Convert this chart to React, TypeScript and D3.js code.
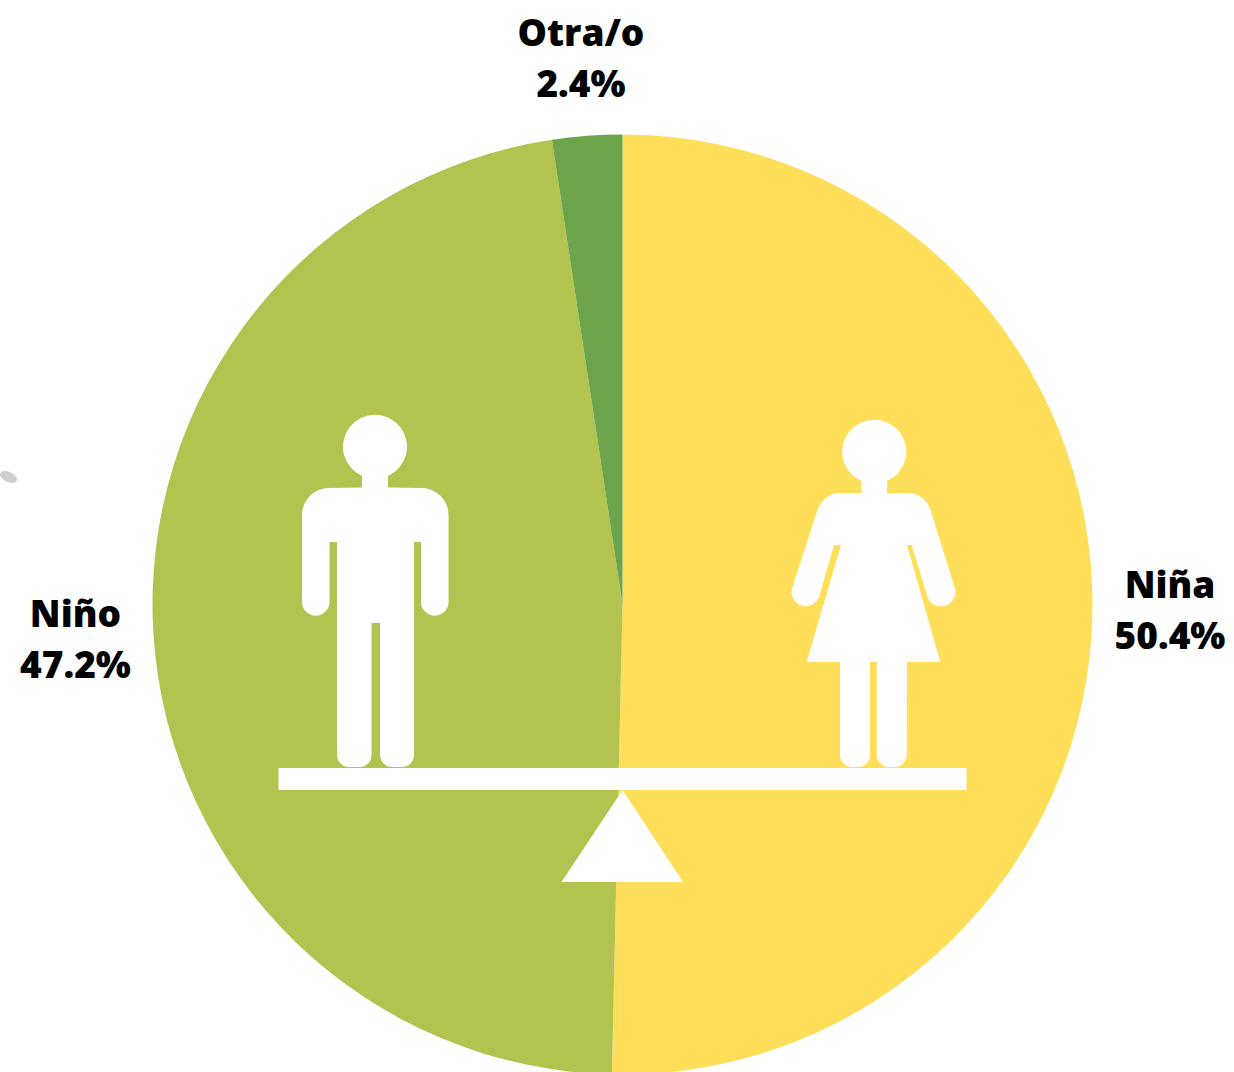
import React from "react";
import * as d3 from "d3";

const categories = ["Niña", "Niño", "Otra/o"];
const shares = [50.36, 47.24, 2.4];
const sliceColors = ["#FFDE59", "#B2C350", "#6CA44C"];
const labelAnchors = [
  { x: 1170, y: 598 },
  { x: 75.5, y: 627 },
  { x: 581, y: 46 },
];

const W = 1234;
const H = 1072;
const CX = 622.5;
const CY = 604.5;
const R = 470;

const MAN =
  "M362 476 A32 32 0 1 1 388 476 L388 487.5 L422 488 A27 27 0 0 1 448.5 515 L448.5 603 A13.8 13.8 0 0 1 421 603 L421 542 L414 542 L414 755 A12 12 0 0 1 402 767 L392 767 A12 12 0 0 1 380 755 L380 623 L371.5 623 L371.5 755 A12 12 0 0 1 359.500 767 L349 767 A12 12 0 0 1 337 755 L337 542 L329.5 542 L329.5 603 A13.8 13.8 0 0 1 302 603 L302 515 A27 27 0 0 1 328 488 L362 487.5 Z";

const WOMAN =
  "M861.5 481 A32 32 0 1 1 887 481 L887 493 L908 493 A24 24 0 0 1 930.5 510 L954.5 587 A14 14 0 0 1 927.500 597 L911.7 545 L907 545 L940.3 662 L907 662 L906.7 755 A12 12 0 0 1 895 767 L889 767 A12 12 0 0 1 876.7 755 L876.7 662 L870 662 L870 755 A12 12 0 0 1 858 767 L852 767 A12 12 0 0 1 840 755 L840 662 L806.7 662 L841 545 L834 545 L819 597 A14 14 0 0 1 792.500 587 L817.500 510 A24 24 0 0 1 840 493 L861.5 493 Z";

export default function App() {
  const pie = d3.pie<number>().sort(null).value((d) => d);
  const arc = d3.arc<d3.PieArcDatum<number>>().innerRadius(0).outerRadius(R);
  const slices = pie(shares);

  return (
    <svg
      width={W}
      height={H}
      viewBox={`0 0 ${W} ${H}`}
      style={{ position: "absolute", left: 0, top: 0, background: "#fff" }}
    >
      <ellipse cx={8.5} cy={477} rx={9} ry={5} fill="#cfcfcf" transform="rotate(25 8.5 477)" />
      <g transform={`translate(${CX},${CY})`}>
        {slices.map((s, i) => (
          <path key={categories[i]} d={arc(s) ?? ""} fill={sliceColors[i]} />
        ))}
      </g>
      <path d={MAN} fill="#fff" />
      <path d={WOMAN} fill="#fff" />
      <rect x={278.5} y={768} width={688} height={22} fill="#fff" />
      <path d="M622.5 790 L683 882 L561.5 882 Z" fill="#fff" />
      {categories.map((c, i) => (
        <text
          key={c}
          x={labelAnchors[i].x}
          y={labelAnchors[i].y}
          textAnchor="middle"
          fontFamily="'Open Sans', sans-serif"
          fontWeight={800}
          fontSize={37}
          fill="#000"
        >
          <tspan x={labelAnchors[i].x}>{c}</tspan>
          <tspan x={labelAnchors[i].x} dy={51}>{`${shares[i].toFixed(1)}%`}</tspan>
        </text>
      ))}
    </svg>
  );
}
